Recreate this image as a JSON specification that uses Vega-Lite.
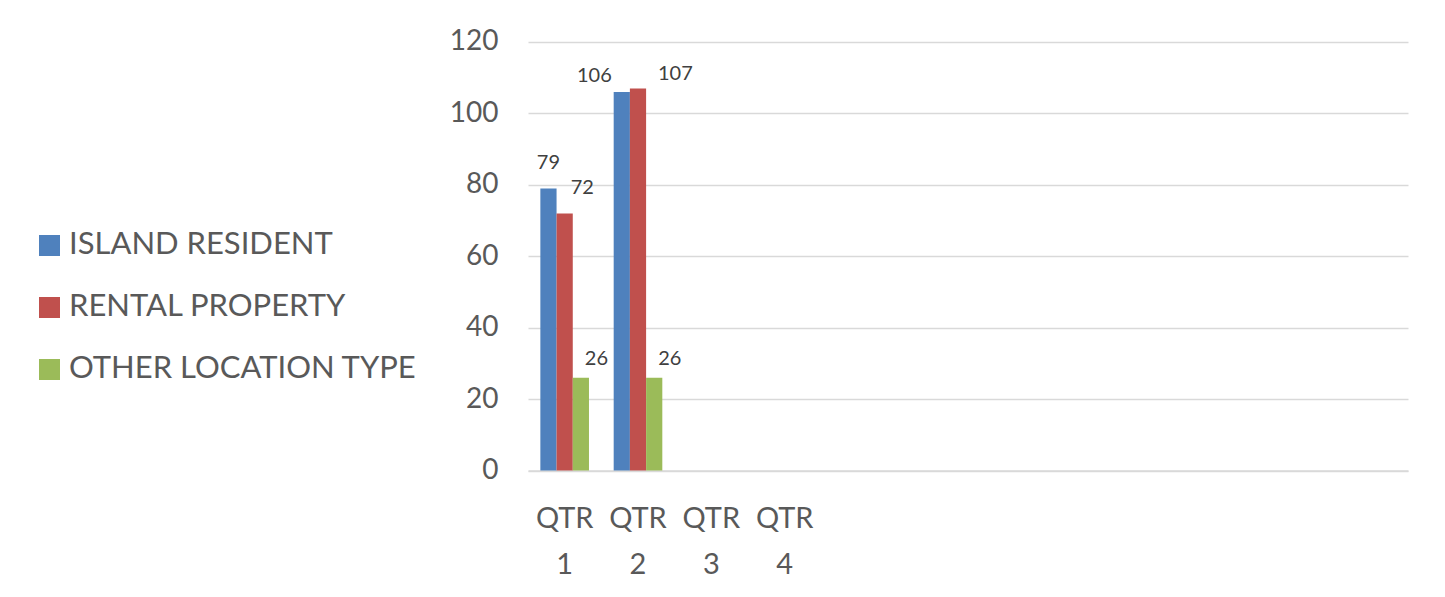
{
  "$schema": "https://vega.github.io/schema/vega-lite/v6.json",
  "width": 880,
  "height": 428.6,
  "autosize": {"type": "none"},
  "padding": {"left": 528, "top": 42, "right": 37, "bottom": 126},
  "background": "white",
  "config": {
    "view": {"stroke": null},
    "font": "Lato",
    "text": {"font": "Lato"}
  },
  "data": {
    "values": [
      {"quarter": "QTR 1", "series": "ISLAND RESIDENT", "value": 79},
      {"quarter": "QTR 1", "series": "RENTAL PROPERTY", "value": 72},
      {"quarter": "QTR 1", "series": "OTHER LOCATION TYPE", "value": 26},
      {"quarter": "QTR 2", "series": "ISLAND RESIDENT", "value": 106},
      {"quarter": "QTR 2", "series": "RENTAL PROPERTY", "value": 107},
      {"quarter": "QTR 2", "series": "OTHER LOCATION TYPE", "value": 26}
    ]
  },
  "encoding": {
    "x": {
      "field": "quarter",
      "type": "nominal",
      "sort": null,
      "scale": {
        "domain": ["QTR 1", "QTR 2", "QTR 3", "QTR 4", "M5", "M6", "M7", "M8", "M9", "M10", "M11", "M12"],
        "paddingInner": 0.337,
        "paddingOuter": 0.1685
      },
      "axis": {
        "title": null,
        "labelExpr": "indexof(datum.value, 'QTR') == 0 ? split(datum.value, ' ') : ''",
        "labelAngle": 0,
        "labelFont": "Lato",
        "labelFontSize": 29,
        "labelColor": "#595959",
        "labelPadding": 34,
        "labelLineHeight": 46,
        "labelBaseline": "top",
        "ticks": false,
        "domainColor": "#D9D9D9",
        "domainWidth": 1.5,
        "grid": false
      }
    },
    "xOffset": {
      "field": "series",
      "type": "nominal",
      "sort": ["ISLAND RESIDENT", "RENTAL PROPERTY", "OTHER LOCATION TYPE"],
      "scale": {"paddingInner": 0, "paddingOuter": 0}
    },
    "y": {
      "field": "value",
      "type": "quantitative",
      "scale": {"domain": [0, 120]},
      "axis": {
        "title": null,
        "values": [0, 20, 40, 60, 80, 100, 120],
        "grid": true,
        "gridColor": "#D9D9D9",
        "gridWidth": 1.5,
        "domain": false,
        "ticks": false,
        "labelFont": "Lato",
        "labelFontSize": 28,
        "labelColor": "#595959",
        "labelPadding": 30
      }
    }
  },
  "layer": [
    {
      "mark": {"type": "bar"},
      "encoding": {
        "color": {
          "field": "series",
          "type": "nominal",
          "scale": {
            "domain": ["ISLAND RESIDENT", "RENTAL PROPERTY", "OTHER LOCATION TYPE"],
            "range": ["#4F81BD", "#C0504D", "#9BBB59"]
          },
          "legend": {
            "title": null,
            "orient": "none",
            "legendX": -494,
            "legendY": 188,
            "symbolType": "square",
            "symbolSize": 441,
            "symbolStrokeWidth": 0,
            "labelFont": "Lato",
            "labelFontSize": 31,
            "labelColor": "#595959",
            "labelOffset": 4,
            "rowPadding": 30,
            "labelLimit": 500
          }
        }
      }
    },
    {
      "transform": [{"filter": "datum.quarter == 'QTR 1' && datum.series == 'ISLAND RESIDENT'"}],
      "mark": {"type": "text", "align": "center", "baseline": "bottom", "dy": -15, "fontSize": 20, "color": "#404040"},
      "encoding": {"text": {"field": "value", "type": "quantitative"}}
    },
    {
      "transform": [{"filter": "datum.quarter == 'QTR 2' && datum.series == 'ISLAND RESIDENT'"}],
      "mark": {"type": "text", "align": "right", "baseline": "bottom", "dx": -10, "dy": -6, "fontSize": 20, "color": "#404040"},
      "encoding": {"text": {"field": "value", "type": "quantitative"}}
    },
    {
      "transform": [{"filter": "datum.quarter == 'QTR 1' && datum.series == 'RENTAL PROPERTY'"}],
      "mark": {"type": "text", "align": "left", "baseline": "bottom", "dx": 6, "dy": -15, "fontSize": 20, "color": "#404040"},
      "encoding": {"text": {"field": "value", "type": "quantitative"}}
    },
    {
      "transform": [{"filter": "datum.series == 'OTHER LOCATION TYPE'"}],
      "mark": {"type": "text", "align": "left", "baseline": "bottom", "dx": 4, "dy": -9, "fontSize": 20, "color": "#404040"},
      "encoding": {"text": {"field": "value", "type": "quantitative"}}
    },
    {
      "transform": [{"filter": "datum.quarter == 'QTR 2' && datum.series == 'RENTAL PROPERTY'"}],
      "mark": {"type": "text", "align": "left", "baseline": "bottom", "dx": 20, "dy": -4, "fontSize": 20, "color": "#404040"},
      "encoding": {"text": {"field": "value", "type": "quantitative"}}
    }
  ]
}
